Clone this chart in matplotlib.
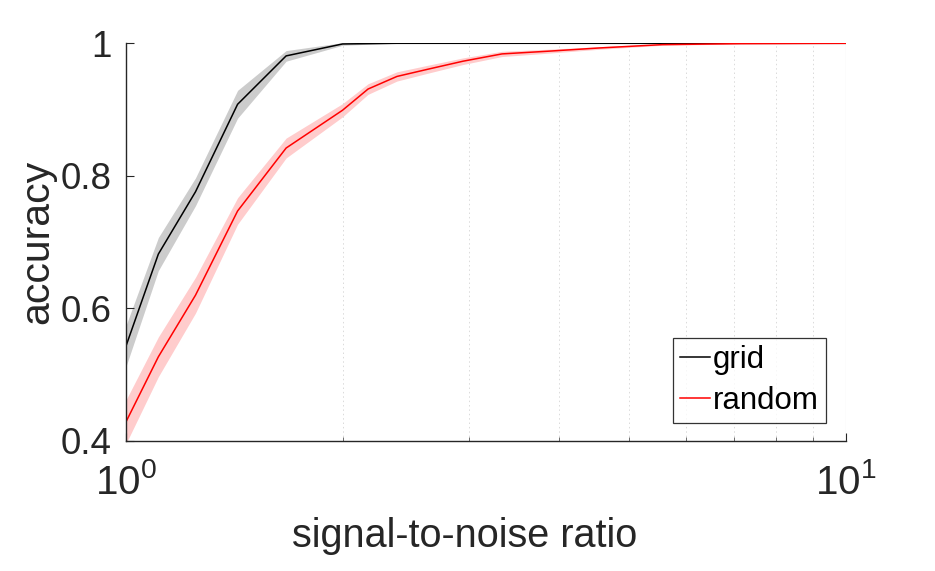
import matplotlib
matplotlib.use("Agg")
import matplotlib.pyplot as plt
import numpy as np
from matplotlib.ticker import FixedLocator, NullFormatter, FixedFormatter

plt.rcParams['font.family'] = ['Liberation Sans', 'DejaVu Sans']
plt.rcParams['mathtext.fontset'] = 'custom'
plt.rcParams['mathtext.rm'] = 'Liberation Sans'
plt.rcParams['mathtext.it'] = 'Liberation Sans'
plt.rcParams['mathtext.bf'] = 'Liberation Sans'

# ---- data ----
snr = [1.0, 1.11, 1.25, 1.43, 1.67, 2.0, 2.17, 2.38, 2.63, 2.94, 3.33, 3.85, 4.55, 5.56, 7.14, 10.0]
grid_mean = [0.542, 0.682, 0.776, 0.908, 0.981, 0.999, 0.9995, 1.0, 1.0, 1.0, 1.0, 1.0, 1.0, 1.0, 1.0, 1.0]
grid_err = [0.031, 0.025, 0.021, 0.021, 0.008, 0.002, 0.001, 0.0, 0.0, 0.0, 0.0, 0.0, 0.0, 0.0, 0.0, 0.0]
random_mean = [0.428, 0.527, 0.620, 0.747, 0.842, 0.899, 0.931, 0.950, 0.961, 0.973, 0.984, 0.988, 0.993, 0.998, 0.9995, 1.0]
random_err = [0.033, 0.030, 0.027, 0.020, 0.015, 0.010, 0.008, 0.007, 0.006, 0.005, 0.004, 0.003, 0.002, 0.001, 0.0005, 0.0]
series_names = ['grid', 'random']
y_ticks = [0.4, 0.6, 0.8, 1.0]
y_ticklabels = ['0.4', '0.6', '0.8', '1']
x_ticks = [1, 10]
x_ticklabels = ['$\\mathregular{10^{0}}$', '$\\mathregular{10^{1}}$']

txt = '#262626'
fig = plt.figure(figsize=(9.35, 5.71), dpi=100)
ax = fig.add_axes([125.7 / 935, (571 - 441) / 571, 720.3 / 935, 397.7 / 571])

x = np.array(snr)
for m, e, c, name in [(grid_mean, grid_err, 'black', series_names[0]),
                      (random_mean, random_err, 'red', series_names[1])]:
    m = np.array(m); e = np.array(e)
    ax.fill_between(x, m - e, m + e, color=c, alpha=0.2, lw=0)
    ax.plot(x, m, color=c, lw=1.1, label=name)

ax.set_xscale('log')
ax.set_xlim(1, 10)
ax.set_ylim(0.4, 1.0)

ax.xaxis.set_major_locator(FixedLocator(x_ticks))
ax.xaxis.set_major_formatter(FixedFormatter(x_ticklabels))
ax.xaxis.set_minor_locator(FixedLocator([2, 3, 4, 5, 6, 7, 8, 9]))
ax.xaxis.set_minor_formatter(NullFormatter())
ax.set_yticks(y_ticks)
ax.set_yticklabels(y_ticklabels)

ax.grid(which='minor', axis='x', linestyle=(0, (1.5, 3)), color='#dadada', lw=0.7)
ax.axvline(10, color='#d6d6d6', lw=0.8, zorder=0)

for s in ['top', 'right']:
    ax.spines[s].set_visible(False)
for s in ['left', 'bottom']:
    ax.spines[s].set_color(txt)
    ax.spines[s].set_linewidth(1.0)

ax.tick_params(axis='both', which='major', direction='in', length=5.5, width=0.8,
               colors=txt, labelsize=26.5)
ax.tick_params(axis='x', which='major', pad=16, labelsize=29)
ax.tick_params(axis='y', which='major', pad=10)
ax.tick_params(axis='x', which='minor', direction='in', length=3, width=0.6, colors='#555555')

ax.set_xlabel('signal-to-noise ratio', fontsize=28.5, color=txt, labelpad=2)
ax.xaxis.set_label_coords(0.471, -0.19)
ax.xaxis.label.set_verticalalignment('top')
ax.set_ylabel('accuracy', fontsize=29.5, color=txt, labelpad=3)

leg = ax.legend(loc='lower right', bbox_to_anchor=(0.972, 0.0445), borderaxespad=0,
                fontsize=22.5, frameon=True, fancybox=False, handlelength=0.95,
                handletextpad=0.1, borderpad=0.22, labelspacing=0.37)
leg.get_frame().set_edgecolor('black')
leg.get_frame().set_linewidth(0.9)
for t in leg.get_texts():
    t.set_color('black')

fig.savefig('out.png', dpi=100)
